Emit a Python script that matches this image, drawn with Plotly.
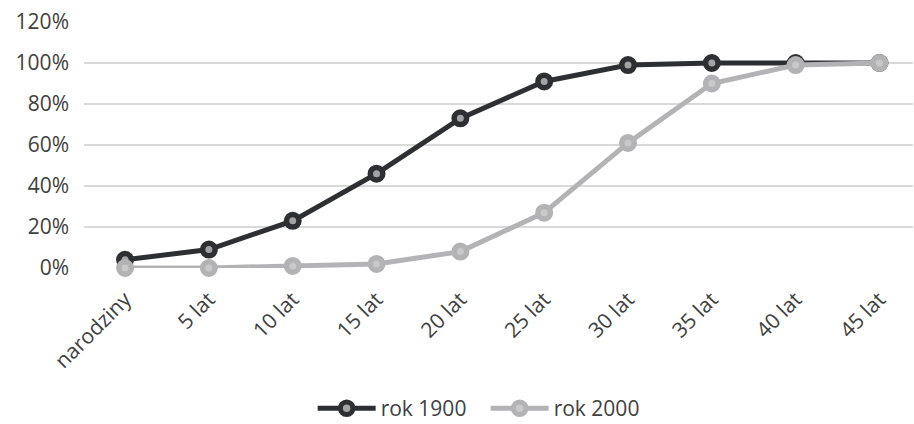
import plotly.graph_objects as go

# Age categories and cumulative share per cohort
categories = ["narodziny", "5 lat", "10 lat", "15 lat", "20 lat",
              "25 lat", "30 lat", "35 lat", "40 lat", "45 lat"]
rok_1900 = [0.04, 0.09, 0.23, 0.46, 0.73, 0.91, 0.99, 1.00, 1.00, 1.00]
rok_2000 = [0.00, 0.00, 0.01, 0.02, 0.08, 0.27, 0.61, 0.90, 0.99, 1.00]
y_ticks = [0, 0.2, 0.4, 0.6, 0.8, 1.0, 1.2]
y_tick_labels = ["0%", "20%", "40%", "60%", "80%", "100%", "120%"]

FONT = "Open Sans"
TEXT = "#404040"
SIZE = 21

fig = go.Figure()

fig.add_trace(go.Scatter(
    x=list(range(len(categories))), y=rok_1900, name="rok 1900",
    mode="lines+markers", cliponaxis=False,
    line=dict(color="#2e2f33", width=5),
    marker=dict(size=12.5, color="#a3a3a5", line=dict(color="#2e2f33", width=5.5)),
))
fig.add_trace(go.Scatter(
    x=list(range(len(categories))), y=rok_2000, name="rok 2000",
    mode="lines+markers", cliponaxis=False,
    line=dict(color="#b3b3b6", width=5),
    marker=dict(size=12.5, color="#c9c9cb", line=dict(color="#b3b3b6", width=5.5)),
))

fig.update_layout(
    width=914, height=424,
    margin=dict(l=84, r=1, t=22, b=156, autoexpand=False),
    paper_bgcolor="white", plot_bgcolor="white",
    font=dict(family=FONT, size=SIZE, color=TEXT),
    showlegend=True,
    legend=dict(orientation="h", x=0.4845, xanchor="center", y=-0.655, yanchor="bottom",
                itemwidth=58, entrywidth=100,
                font=dict(family=FONT, size=SIZE, color=TEXT),
                traceorder="normal", itemclick=False),
    xaxis=dict(
        range=[-0.49, 9.40], automargin=False,
        tickmode="array", tickvals=list(range(len(categories))), ticktext=categories,
        tickangle=-45, showgrid=False, zeroline=False, showline=False,
        tickfont=dict(family=FONT, size=SIZE, color=TEXT), ticks="",
        ticklabelstandoff=14,
    ),
    yaxis=dict(
        range=[0, 1.2], automargin=False,
        tickmode="array", tickvals=y_ticks, ticktext=y_tick_labels,
        showgrid=True, gridcolor="#d9d9d9", gridwidth=1.5,
        zeroline=False, showline=False, ticks="", ticklabelstandoff=14,
        tickfont=dict(family=FONT, size=SIZE, color=TEXT),
    ),
)

fig.write_html("out.html")
